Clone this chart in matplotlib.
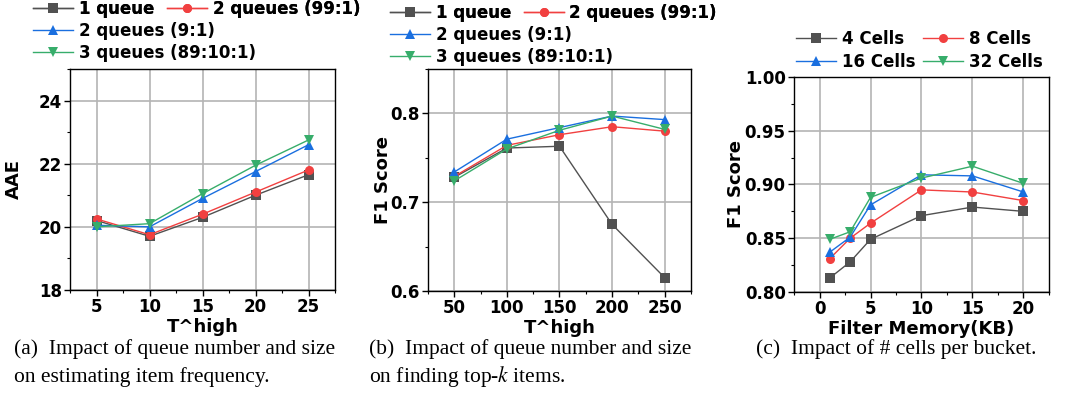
import numpy as np
import matplotlib.pyplot as plt
from matplotlib.ticker import MultipleLocator

plt.rcParams.update({
    "font.family": ["DejaVu Sans"],
    "axes.linewidth": 1.0,
    "mathtext.fontset": "stix",
})

# --- data ---
t_high_a = [5, 10, 15, 20, 25]
aae_1q = [20.2, 19.7, 20.3, 21.0, 21.65]
aae_2q_99 = [20.25, 19.75, 20.4, 21.1, 21.8]
aae_2q_9 = [20.05, 20.0, 20.9, 21.75, 22.6]
aae_3q = [20.0, 20.1, 21.05, 21.95, 22.75]

t_high_b = [50, 100, 150, 200, 250]
f1_1q = [0.728, 0.761, 0.763, 0.675, 0.615]
f1_2q_99 = [0.729, 0.764, 0.776, 0.785, 0.780]
f1_2q_9 = [0.734, 0.771, 0.784, 0.797, 0.793]
f1_3q = [0.724, 0.760, 0.781, 0.797, 0.782]

mem_kb = [1, 3, 5, 10, 15, 20]
f1_4c = [0.813, 0.828, 0.849, 0.871, 0.879, 0.875]
f1_8c = [0.831, 0.850, 0.864, 0.895, 0.893, 0.885]
f1_16c = [0.837, 0.851, 0.881, 0.909, 0.908, 0.893]
f1_32c = [0.849, 0.856, 0.888, 0.906, 0.917, 0.901]

queue_labels = ["1 queue", "2 queues (99:1)", "2 queues (9:1)", "3 queues (89:10:1)"]
cell_labels = ["4 Cells", "8 Cells", "16 Cells", "32 Cells"]

# Origin-like palette
colors = ["#515151", "#F14040", "#1A6FDF", "#37AD6B"]
markers = ["s", "o", "^", "v"]

fig = plt.figure(figsize=(10.71, 3.94), dpi=100)

LEG_KW = dict(frameon=False, handlelength=2.4, handletextpad=0.35,
              prop={"weight": "bold", "size": 12}, borderaxespad=0,
              borderpad=0, labelspacing=0.22, columnspacing=0.75)

def style_axes(ax):
    ax.grid(True, which="major", color="#b4b4b4", linewidth=1.2)
    ax.set_axisbelow(True)
    ax.tick_params(which="major", direction="out", length=4, width=1,
                   labelsize=12, pad=2)
    ax.tick_params(which="minor", direction="out", length=2, width=0.8)
    for lab in ax.get_xticklabels() + ax.get_yticklabels():
        lab.set_fontweight("bold")

def draw(ax, x, series):
    handles = []
    for y, c, m in zip(series, colors, markers):
        h, = ax.plot(x, y, color=c, marker=m, markersize=6.5, linewidth=1.0,
                     markeredgewidth=0)
        handles.append(h)
    return handles

def queue_legend(handles, x0, y0):
    leg1 = fig.legend(handles[:2], queue_labels[:2], ncol=2, loc="upper left",
                      bbox_to_anchor=(x0, y0), **LEG_KW)
    fig.add_artist(leg1)
    fig.legend(handles[2:], queue_labels[2:], ncol=1, loc="upper left",
               bbox_to_anchor=(x0, y0 - 0.056), **LEG_KW)

# (a)
ax1 = fig.add_axes([0.0654, 0.264, 0.2474, 0.561])
h1 = draw(ax1, t_high_a, [aae_1q, aae_2q_99, aae_2q_9, aae_3q])
ax1.set_xlim(2.5, 27.5)
ax1.set_ylim(18, 25)
ax1.set_xticks(t_high_a)
ax1.yaxis.set_major_locator(MultipleLocator(2))
ax1.yaxis.set_minor_locator(MultipleLocator(1))
ax1.xaxis.set_minor_locator(MultipleLocator(2.5))
ax1.set_ylabel("AAE", fontsize=13, fontweight="bold", labelpad=11)
ax1.set_xlabel("T^high", fontsize=13, fontweight="bold", labelpad=1)
style_axes(ax1)
queue_legend(h1, 0.031, 1.0)

# (b)
ax2 = fig.add_axes([0.3996, 0.2614, 0.2456, 0.5635])
h2 = draw(ax2, t_high_b, [f1_1q, f1_2q_99, f1_2q_9, f1_3q])
ax2.set_xlim(25, 275)
ax2.set_ylim(0.6, 0.85)
ax2.set_xticks(t_high_b)
ax2.yaxis.set_major_locator(MultipleLocator(0.1))
ax2.yaxis.set_minor_locator(MultipleLocator(0.05))
ax2.xaxis.set_minor_locator(MultipleLocator(25))
ax2.set_ylabel("F1 Score", fontsize=13, fontweight="bold", labelpad=-1)
ax2.set_xlabel("T^high", fontsize=13, fontweight="bold", labelpad=1)
style_axes(ax2)
queue_legend(h2, 0.364, 0.99)

# (c)
ax3 = fig.add_axes([0.7414, 0.2589, 0.238, 0.5457])
h3 = draw(ax3, mem_kb, [f1_4c, f1_8c, f1_16c, f1_32c])
ax3.set_xlim(-2.5, 22.5)
ax3.set_ylim(0.80, 1.00)
ax3.set_xticks([0, 5, 10, 15, 20])
ax3.set_yticks([0.80, 0.85, 0.90, 0.95, 1.00])
ax3.yaxis.set_major_formatter(plt.FormatStrFormatter("%.2f"))
ax3.yaxis.set_minor_locator(MultipleLocator(0.025))
ax3.xaxis.set_minor_locator(MultipleLocator(2.5))
ax3.set_ylabel("F1 Score", fontsize=13, fontweight="bold", labelpad=0)
ax3.set_xlabel("Filter Memory(KB)", fontsize=13, fontweight="bold", labelpad=1)
style_axes(ax3)
order = [0, 2, 1, 3]
leg_c = dict(LEG_KW, labelspacing=0.33, columnspacing=0.5)
fig.legend([h3[i] for i in order], [cell_labels[i] for i in order], ncol=2,
           loc="upper left", bbox_to_anchor=(0.743, 0.925), **leg_c)

# captions
cap = dict(fontsize=15.5, fontweight="normal",
           family=["Liberation Serif", "DejaVu Serif"], va="center", ha="left")
fig.text(0.013, 0.114, "(a)  Impact of queue number and size", **cap)
fig.text(0.013, 0.044, "on estimating item frequency.", **cap)
fig.text(0.345, 0.114, "(b)  Impact of queue number and size", **cap)
fig.text(0.345, 0.044, "on finding top-$k$ items.", **cap)
fig.text(0.706, 0.114, "(c)  Impact of # cells per bucket.", **cap)

fig.savefig("out.png", dpi=100)
